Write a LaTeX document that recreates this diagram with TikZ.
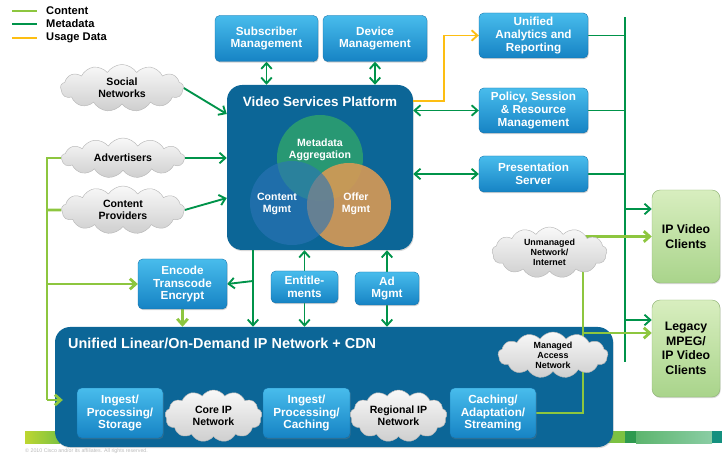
\documentclass[tikz,border=0pt]{standalone}
\usepackage{fontspec}
\setmainfont{Liberation Sans}
\usetikzlibrary{arrows.meta, positioning, calc, shapes.symbols, shadows,
                backgrounds}
\definecolor{contentc}{HTML}{8DC63F}
\definecolor{metac}{HTML}{00934A}
\definecolor{usagec}{HTML}{FDBE12}
\definecolor{boxtop}{HTML}{48BCEC}
\definecolor{boxbot}{HTML}{1683C4}
\definecolor{platc}{HTML}{0C6697}
\definecolor{clienttop}{HTML}{D8EEBF}
\definecolor{clientbot}{HTML}{A9D48B}
\definecolor{venngreen}{HTML}{2A9B72}
\definecolor{vennblue}{HTML}{2C74B6}
\definecolor{vennorange}{HTML}{D79A55}
\definecolor{barA}{HTML}{BDD630}
\definecolor{barB}{HTML}{7CC242}
\definecolor{barC}{HTML}{2E9A4F}
\definecolor{barD}{HTML}{5DB56E}
\definecolor{barE}{HTML}{8ACDA4}
\definecolor{barF}{HTML}{14907F}
\newlength{\px}
\setlength{\px}{0.03cm}
\tikzset{
  svc/.style={rounded corners=4pt, top color=boxtop, bottom color=boxbot,
    draw=boxbot!85!black, line width=0.3pt, text=white, align=center,
    inner sep=1pt, font=\fontsize{10}{11}\selectfont\bfseries,
    drop shadow={opacity=0.35, shadow xshift=0.6pt, shadow yshift=-1pt}},
  cloudy/.style={cloud, cloud puffs=13, cloud puff arc=115,
    cloud ignores aspect, top color=gray!5, bottom color=gray!38,
    draw=gray!55, line width=0.4pt, text=black, align=center,
    inner sep=0pt, font=\fontsize{9}{10}\selectfont\bfseries},
  smallcloud/.style={font=\fontsize{7.6}{8.6}\selectfont\bfseries},
  client/.style={rounded corners=7pt, top color=clienttop,
    bottom color=clientbot, draw=clientbot!85!black, line width=0.4pt,
    align=center, inner sep=1pt,
    font=\fontsize{10.5}{12.5}\selectfont\bfseries,
    drop shadow={opacity=0.3, shadow xshift=0.6pt, shadow yshift=-1pt}},
  plat/.style={rounded corners=13pt, fill=platc, draw=none,
    drop shadow={opacity=0.3, shadow xshift=0.6pt, shadow yshift=-1pt}},
  title/.style={text=white, inner sep=0pt,
    font=\fontsize{11.5}{13}\selectfont\bfseries},
  venntext/.style={text=white, align=center, inner sep=0pt,
    font=\fontsize{9}{10.5}\selectfont\bfseries},
  key/.style={inner sep=0pt, anchor=west,
    font=\fontsize{9.5}{10}\selectfont\bfseries},
  metaln/.style={metac, line width=1.6pt},
  contentln/.style={contentc, line width=2.4pt},
  usageln/.style={usagec, line width=1.6pt},
}
\newcommand{\svcbox}[5]{%
  \node[svc, minimum width=#3\px, minimum height=#4\px] (#1) at #2 {#5};
}
\newcommand{\netcloud}[6][]{%
  \node[cloudy, #1, minimum width=#4\px, minimum height=#5\px] (#2) at #3 {#6};
}

\begin{document}
\begin{tikzpicture}[x=1\px, y=-1\px, line join=round,
          >={Straight Barb[length=5pt, width=9pt]}]
  \useasboundingbox (0,0) rectangle (722,456);

  \begin{scope}[on background layer]
    \shade[left color=barA, right color=barB] (25,431) rectangle (60,443);
    \fill[barB] (600,431) rectangle (625,443);
    \fill[barC] (625,431) rectangle (636,443);
    \shade[left color=barD, right color=barE] (636,431) rectangle (712,443);
    \fill[barF] (712,431) rectangle (722,443);
    \node[plat, minimum width=186\px, minimum height=165\px] (vsp) at (320,167.5) {};
    \node[plat, minimum width=558\px, minimum height=120\px] (net) at (334,387) {};
  \end{scope}

  \foreach \c/\t/\y [count=\i] in {contentc/Content/11, metac/Metadata/24,
                                   usagec/Usage Data/38} {
    \draw[\c, line width=1.8pt] (12,\y) -- (37,\y);
    \node[key] (key\i) at (46,\y) {\t};
  }

  \svcbox{sub}{(266.5,38.5)}{103}{46}{Subscriber\\Management}
  \svcbox{dev}{(375,38.5)}{104}{46}{Device\\Management}
  \svcbox{uar}{(533.5,35.5)}{109}{45}{Unified\\Analytics and\\Reporting}
  \svcbox{psr}{(533.5,110.5)}{109}{45}{Policy, Session\\\& Resource\\Management}
  \svcbox{pres}{(533.5,174)}{109}{36}{Presentation\\Server}
  \svcbox{enc}{(182.5,284)}{89}{50}{Encode\\Transcode\\Encrypt}
  \svcbox{ent}{(304.5,287)}{67}{32}{Entitle-\\ments}
  \svcbox{ad}{(387,288.5)}{64}{33}{Ad\\Mgmt}
  \svcbox{ing1}{(120,413)}{86}{50}{Ingest/\\Processing/\\Storage}
  \svcbox{ing2}{(306.5,413)}{87}{50}{Ingest/\\Processing/\\Caching}
  \svcbox{cache}{(493,413)}{86}{50}{Caching/\\Adaptation/\\Streaming}

  \netcloud{social}{(122,88)}{123}{47}{Social\\Networks}
  \netcloud{adv}{(123,158)}{123}{40}{Advertisers}
  \netcloud{cprov}{(123,210)}{123}{48}{Content\\Providers}
  \netcloud{core}{(213.5,416)}{97}{52}{Core IP\\Network}
  \netcloud{reg}{(398.5,416)}{97}{52}{Regional IP\\Network}
  \netcloud[smallcloud]{unm}{(549.5,252.5)}{115}{51}{Unmanaged\\Network/\\Internet}
  \netcloud[smallcloud]{mgd}{(553,355)}{110}{46}{Managed\\Access\\Network}

  \node[client, minimum width=68\px, minimum height=93\px] (ipc) at (686,236.5)
    {IP Video\\Clients};
  \node[client, minimum width=68\px, minimum height=97\px] (legacy) at (686,348.5)
    {Legacy\\MPEG/\\IP Video\\Clients};

  \fill[venngreen, opacity=0.95] (320,158) circle [radius=43];
  \fill[vennorange, opacity=0.9] (349,205) circle [radius=42];
  \fill[vennblue, opacity=0.62] (292,203) circle [radius=42];
  \node[venntext] (vmeta) at (320,150) {Metadata\\Aggregation};
  \node[venntext] (vcont) at (277,204) {Content\\Mgmt};
  \node[venntext] (voffer) at (356,204) {Offer\\Mgmt};
  \node[title] (vsptitle) at (320,102) {Video Services Platform};
  \node[title, anchor=west, font=\fontsize{12.3}{14}\selectfont\bfseries]
    (nettitle) at (68,343) {Unified Linear/On-Demand IP Network + CDN};
  \node[anchor=west, inner sep=0pt, text=gray!55,
        font=\fontsize{4.5}{5}\selectfont] (copy) at (25,451)
    {© 2010 Cisco and/or its affiliates. All rights reserved.};

  \begin{scope}[on background layer]
    \draw[metaln, <->] (sub.south) -- (sub.south |- vsp.north);
    \draw[metaln, <->] (dev.south) -- (dev.south |- vsp.north);
    \draw[metaln, ->] (social.east) -- (vsp.west |- 0,114);
    \draw[metaln, ->] (adv.east) -- (adv.east -| vsp.west);
    \draw[metaln, ->] (cprov.east) -- (vsp.west |- 0,198);
    \draw[usageln, ->] (vsp.east |- 0,101) -| ($(uar.west)+(-35,0)$) -- (uar.west);
    \draw[metaln, <->] (vsp.east |- psr.west) -- (psr.west);
    \draw[metaln, <->] (vsp.east |- pres.west) -- (pres.west);
    \coordinate (mbt) at (625,17);
    \coordinate (mbb) at (625,362);
    \draw[metaln] (mbt) -- (mbb);
    \foreach \n in {uar,psr,pres} \draw[metaln] (\n.east) -- (\n.east -| mbt);
    \draw[metaln, ->] (mbt |- 0,209) -- (ipc.west |- 0,209);
    \draw[metaln, ->] (mbt |- 0,320) -- (legacy.west |- 0,320);
    \coordinate (tap) at (253,281);
    \draw[metaln, ->] (tap |- vsp.south) -- (tap |- net.north);
    \draw[metaln, ->] (tap) -- (enc.east);
    \foreach \n in {ent,ad} {
      \draw[metaln, ->] (\n.north) -- (\n.north |- vsp.south);
      \draw[metaln, ->] (\n.south) -- (\n.south |- net.north);
    }
    \coordinate (cbus) at (47,400);
    \draw[contentln] (adv) -| (cbus);
    \draw[contentln, ->, shorten >=14\px] (cbus) -- (cbus -| ing1.west);
    \draw[contentln] (cprov) -- (cprov -| cbus);
    \draw[contentln, ->] (cbus |- enc.west) -- (enc.west);
    \draw[contentln, ->] (enc.south) -- (enc.south |- net.north);
    \coordinate (cdrop) at (583,333);
    \draw[contentln] (cache.east) -| (cdrop) -- (cdrop |- unm.center);
    \draw[contentln, ->] (cdrop) -- (cdrop -| legacy.west);
    \draw[contentln, ->] (unm.center |- ipc.west) -- (ipc.west);
  \end{scope}
\end{tikzpicture}
\end{document}
